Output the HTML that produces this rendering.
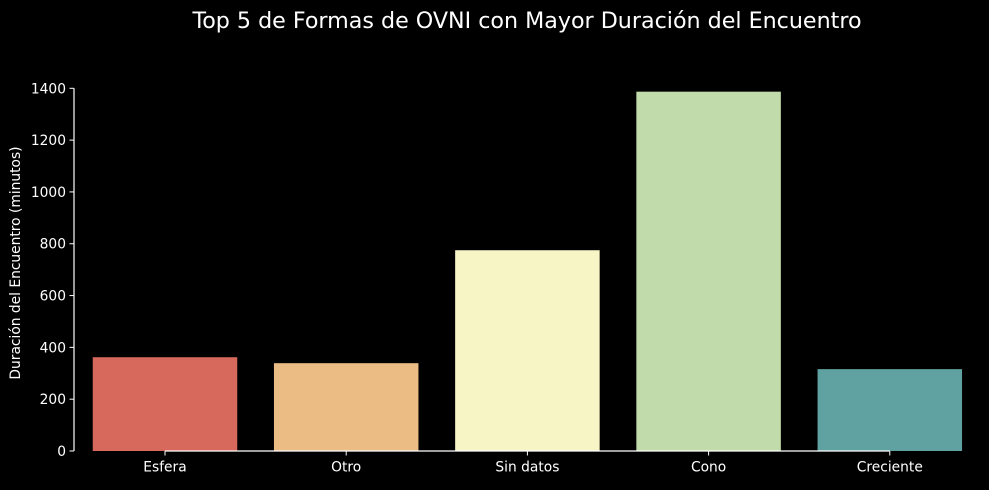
<!DOCTYPE html>
<html><head><meta charset="utf-8"><style>
body{margin:0;background:#000;width:989px;height:485px;overflow:hidden;font-family:"Liberation Sans","DejaVu Sans",sans-serif}
</style></head><body>
<svg id="chart" width="989" height="485" xmlns="http://www.w3.org/2000/svg" style="font-family:'DejaVu Sans','Liberation Sans',sans-serif">
<rect width="989" height="485" fill="#000"/>
<text x="527" y="28" fill="#fff" font-size="22.2" text-anchor="middle">Top 5 de Formas de OVNI con Mayor Duración del Encuentro</text>
<text transform="translate(20,263) rotate(-90)" fill="#fff" font-size="13.8" text-anchor="middle">Duración del Encuentro (minutos)</text>
<g id="bars"></g><g id="axes"></g>
</svg>
<script>
const categories=["Esfera","Otro","Sin datos","Cono","Creciente"];
const values=[362,339,775,1387,316];
const colors=["#d7695c","#ebbc84","#f7f5c6","#c1dcaa","#5fa2a1"];
const yTicks=[0,200,400,600,800,1000,1200,1400];
const NS="http://www.w3.org/2000/svg";
const y0=451,yTop=88.3,yMax=1400;
function yS(v){return y0-(y0-yTop)*v/yMax;}
const step=181.2,firstC=165;
function xC(i){return firstC+i*step;}
const bw=144.5;
const bars=document.getElementById('bars'),axes=document.getElementById('axes');
function mk(t,a,p){const e=document.createElementNS(NS,t);for(const k in a)e.setAttribute(k,a[k]);p.appendChild(e);return e;}
categories.forEach((c,i)=>{
 const r=mk('rect',{x:xC(i)-bw/2,y:yS(values[i]),width:bw,height:y0-yS(values[i]),fill:colors[i]},bars);
 
 
 mk('line',{x1:xC(i),x2:xC(i),y1:y0,y2:y0+4.5,stroke:'#fff','stroke-width':1},axes);
 const t=mk('text',{x:xC(i),y:y0+20.5,fill:'#fff','font-size':13.8,'text-anchor':'middle'},axes);
 t.textContent=c;
 
 
});
const sx=74;
mk('line',{x1:sx,x2:sx,y1:yTop,y2:y0,stroke:'#fff','stroke-width':1.2},axes);
mk('line',{x1:xC(0),x2:xC(categories.length-1),y1:y0,y2:y0,stroke:'#fff','stroke-width':1.2},axes);
yTicks.forEach(v=>{
 mk('line',{x1:sx-4.5,x2:sx,y1:yS(v),y2:yS(v),stroke:'#fff','stroke-width':1},axes);
 const t=mk('text',{x:sx-8,y:yS(v)+5,fill:'#fff','font-size':13.8,'text-anchor':'end'},axes);
 t.textContent=v;
 
 
});
</script>
</body></html>
